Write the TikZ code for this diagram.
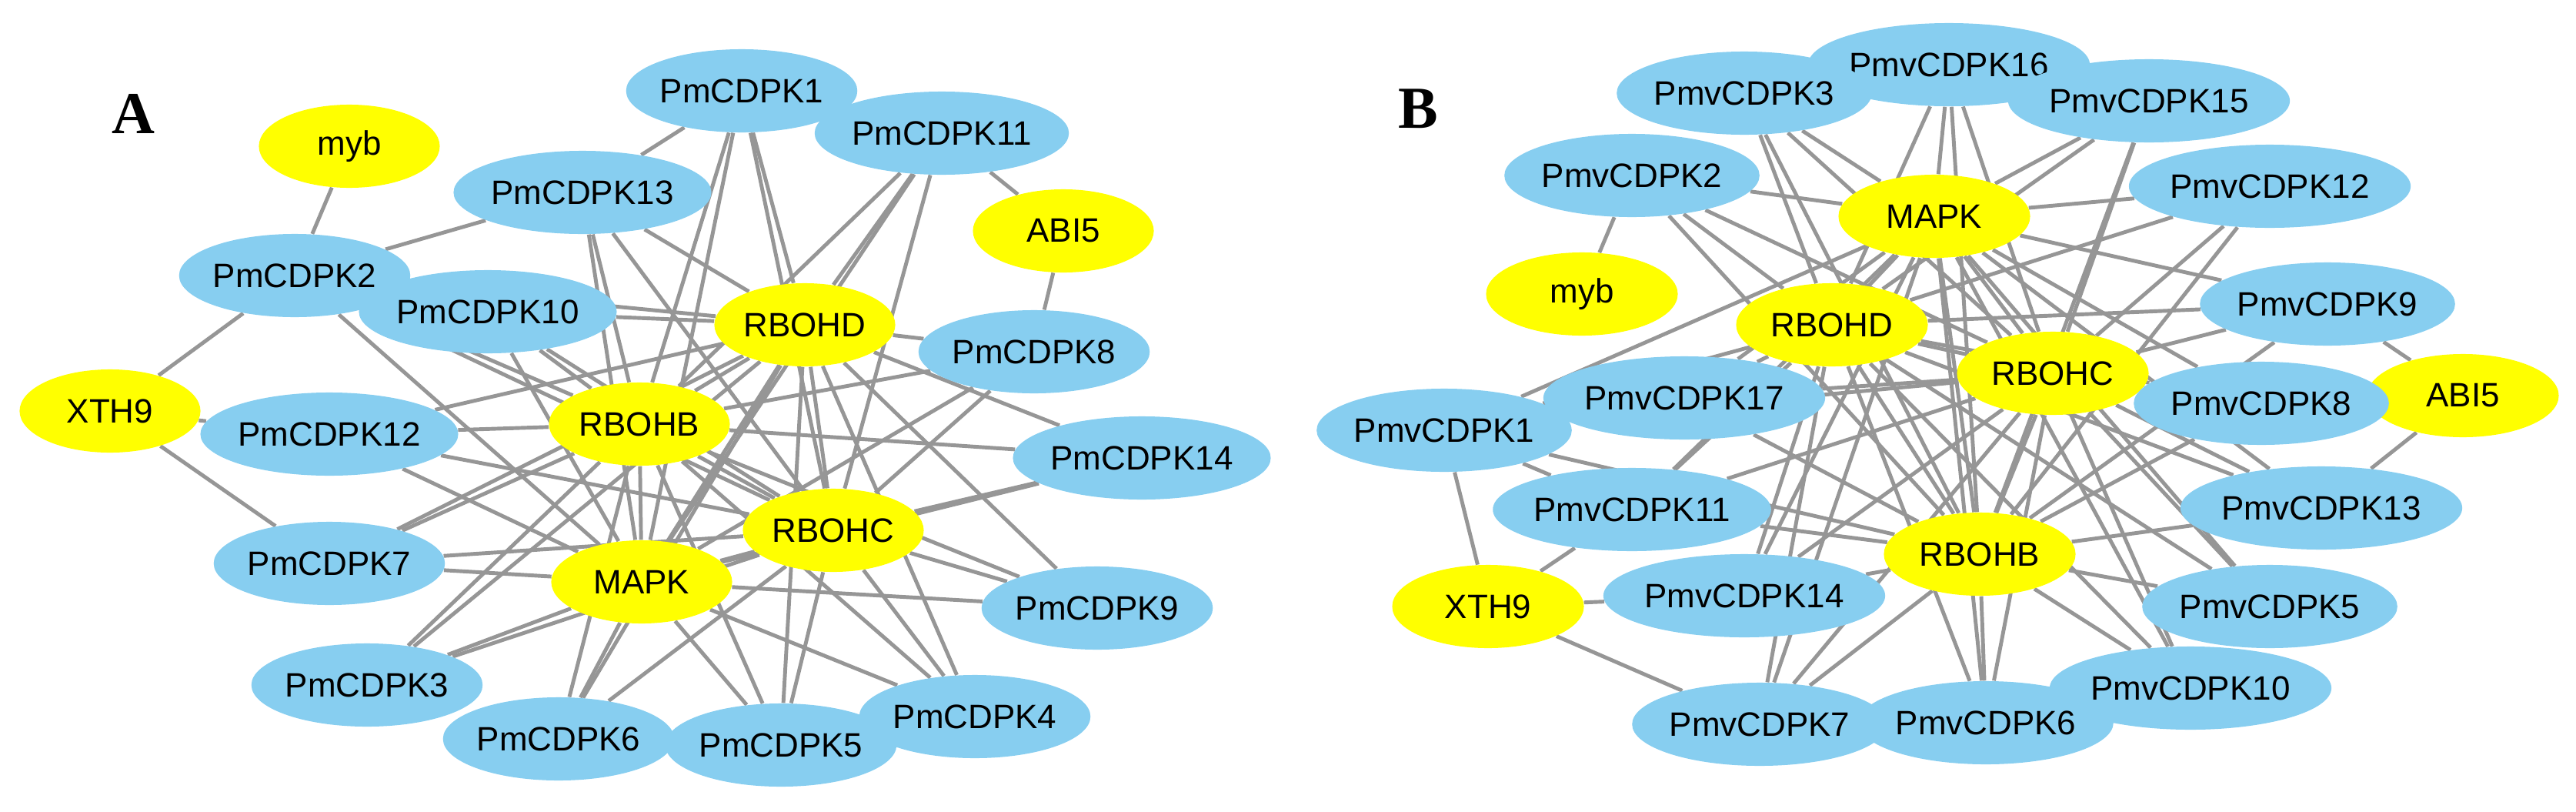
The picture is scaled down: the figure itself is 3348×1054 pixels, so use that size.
\documentclass[tikz,border=0pt]{standalone}
\usepackage{fontspec}
\setmainfont{Liberation Sans}
\newfontfamily\lbl{Liberation Serif}
\usetikzlibrary{shapes.geometric,backgrounds}
\definecolor{cdpk}{RGB}{135,206,240}
\definecolor{hub}{RGB}{255,255,0}
\definecolor{edge}{RGB}{150,150,150}
\begin{document}
\begin{tikzpicture}[x=0.01cm,y=-0.01cm,
  nd/.style={ellipse,minimum width=2.35cm,minimum height=1.08cm,inner sep=0pt,font=\fontsize{12.5}{14}\selectfont},
  bl/.style={nd,fill=cdpk},
  yl/.style={nd,fill=hub},
  bb/.style={bl,minimum width=2.49cm},
  yb/.style={yl,minimum width=2.49cm},
  ed/.style={draw=edge,line width=1.4pt},
  tag/.style={font=\lbl\bfseries\fontsize{22}{24}\selectfont}]
\useasboundingbox (0,0) rectangle (3348,1054);
% Panel A
\node[tag] (LA) at (173,148) {A};
\node[yl] (amyb) at (454,190) {myb};
\node[bl] (a1) at (964,118) {PmCDPK1};
\node[bl] (a11) at (1224,173) {PmCDPK11};
\node[bl] (a13) at (757,250) {PmCDPK13};
\node[yl] (aabi) at (1382,300) {ABI5};
\node[bl] (a2) at (383,358) {PmCDPK2};
\node[bl] (a10) at (634,405) {PmCDPK10};
\node[yl] (aD) at (1046,422) {RBOHD};
\node[bl] (a8) at (1344,457) {PmCDPK8};
\node[yl] (axth) at (143,534) {XTH9};
\node[bl] (a12) at (428,564) {PmCDPK12};
\node[yl] (aB) at (831,551) {RBOHB};
\node[bl] (a14) at (1484,595) {PmCDPK14};
\node[yl] (aC) at (1083,689) {RBOHC};
\node[bl] (a7) at (428,732) {PmCDPK7};
\node[yl] (aM) at (834,756) {MAPK};
\node[bl] (a9) at (1426,790) {PmCDPK9};
\node[bl] (a3) at (477,890) {PmCDPK3};
\node[bl] (a6) at (726,960) {PmCDPK6};
\node[bl] (a5) at (1015,968) {PmCDPK5};
\node[bl] (a4) at (1267,931) {PmCDPK4};
% Panel B
\node[tag] (LB) at (1843,141) {B};
\node[bb] (b16) at (2533,84) {PmvCDPK16};
\node[bb] (b3) at (2267,121) {PmvCDPK3};
\node[bb] (b15) at (2793,131) {PmvCDPK15};
\node[bb] (b2) at (2121,228) {PmvCDPK2};
\node[bb] (b12) at (2950,242) {PmvCDPK12};
\node[yb] (bM) at (2514,281) {MAPK};
\node[yb] (bmyb) at (2056,382) {myb};
\node[bb] (b9) at (3025,395) {PmvCDPK9};
\node[yb] (bD) at (2381,422) {RBOHD};
\node[yb] (bC) at (2668,485) {RBOHC};
\node[yb] (babi) at (3201,514) {ABI5};
\node[bb] (b17) at (2189,517) {PmvCDPK17};
\node[bb] (b8) at (2939,524) {PmvCDPK8};
\node[bb] (b1) at (1877,559) {PmvCDPK1};
\node[bb] (b11) at (2121,662) {PmvCDPK11};
\node[bb] (b13) at (3017,660) {PmvCDPK13};
\node[yb] (bB) at (2573,720) {RBOHB};
\node[yb] (bxth) at (1934,788) {XTH9};
\node[bb] (b14) at (2267,774) {PmvCDPK14};
\node[bb] (b5) at (2950,788) {PmvCDPK5};
\node[bb] (b10) at (2847,894) {PmvCDPK10};
\node[bb] (b7) at (2287,941) {PmvCDPK7};
\node[bb] (b6) at (2581,939) {PmvCDPK6};
\begin{scope}[on background layer]
\foreach \h in {aD,aB,aC,aM}{
  \foreach \c in {a1,a2,a3,a4,a5,a6,a7,a8,a9,a10,a11,a12,a13,a14}{
    \draw[ed] (\h) -- (\c);}}
\draw[ed] (aD)--(aB) (aD)--(aC) (aD)--(aM) (aB)--(aC) (aB)--(aM) (aC)--(aM);
\draw[ed] (amyb)--(a2) (axth)--(a2) (axth)--(a12) (axth)--(a7)
  (aabi)--(a11) (aabi)--(a8) (a1)--(a13) (a13)--(a2);
\foreach \h in {bD,bB,bC,bM}{
  \foreach \c in {b1,b2,b3,b5,b6,b7,b8,b9,b10,b11,b12,b13,b14,b15,b16,b17}{
    \draw[ed] (\h) -- (\c);}}
\draw[ed] (bD)--(bB) (bD)--(bC) (bD)--(bM) (bB)--(bC) (bB)--(bM) (bC)--(bM);
\draw[ed] (bmyb)--(b2) (bxth)--(b1) (bxth)--(b11) (bxth)--(b14) (bxth)--(b7)
  (babi)--(b9) (babi)--(b13) (b1)--(b17) (b1)--(b11);
\end{scope}
\end{tikzpicture}
\end{document}
